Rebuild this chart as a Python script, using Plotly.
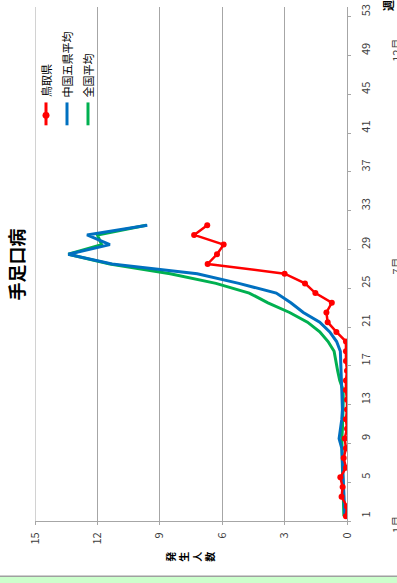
import plotly.graph_objects as go

# Weekly reported cases per sentinel site (hand, foot and mouth disease)
weeks = list(range(1, 32))
tottori = [0.05, 0.0, 0.26, 0.21, 0.32, 0.05, 0.16, 0.05, 0.11, 0.0,
           0.05, 0.0, 0.0, 0.05, 0.05, 0.0, 0.05, 0.05, 0.05, 0.51,
           0.93, 0.99, 0.73, 1.52, 2.02, 3.0, 6.70, 6.25, 5.93, 7.35, 6.72]
chugoku5 = [0.10, 0.12, 0.15, 0.17, 0.20, 0.20, 0.22, 0.25, 0.38, 0.30,
            0.25, 0.22, 0.25, 0.25, 0.27, 0.28, 0.28, 0.32, 0.50, 0.83,
            1.31, 2.10, 2.70, 3.40, 5.20, 7.20, 11.3, 13.4, 11.4, 12.5, 9.6]
national = [0.15, 0.17, 0.18, 0.20, 0.22, 0.22, 0.23, 0.25, 0.25, 0.22,
            0.20, 0.18, 0.18, 0.19, 0.35, 0.45, 0.55, 0.62, 0.91, 1.31,
            1.90, 2.76, 3.80, 4.70, 6.30, 8.50, 11.4, 13.4, 11.8, 12.0, 9.65]

series_names = ["鳥取県", "中国五県平均", "全国平均"]
series_colors = ["#FF0000", "#0070C0", "#00B050"]

week_ticks = list(range(1, 54, 4))
value_ticks = [0, 3, 6, 9, 12, 15]
month_labels = ["1月", "7月", "12月"]
value_title = "発生人数"

W, H = 397, 583
ML, MR, MT, MB = 35, 50, 4, 62
PW, PH = W - ML - MR, H - MT - MB
FONT = "Noto Sans CJK JP"
GRID = "#A6A6A6"


def px(x):
    return (x - ML) / PW


def py(y):
    return (H - MB - y) / PH


fig = go.Figure()

# The chart is laid out sideways: values run right-to-left, weeks bottom-to-top
fig.add_trace(go.Scatter(x=national, y=weeks, mode="lines", name=series_names[2],
                         line=dict(color=series_colors[2], width=3)))
fig.add_trace(go.Scatter(x=chugoku5, y=weeks, mode="lines", name=series_names[1],
                         line=dict(color=series_colors[1], width=3)))
fig.add_trace(go.Scatter(x=tottori, y=weeks, mode="lines+markers", name=series_names[0],
                         line=dict(color=series_colors[0], width=2.5),
                         marker=dict(color=series_colors[0], size=6)))
# invisible trace carrying the between-category tick marks
fig.add_trace(go.Scatter(x=[None], y=[None], yaxis="y2", showlegend=False))

fig.update_layout(
    width=W, height=H,
    margin=dict(l=ML, r=MR, t=MT, b=MB),
    paper_bgcolor="white", plot_bgcolor="white",
    showlegend=False,
    font=dict(family=FONT, color="#404040", size=11),
    xaxis=dict(range=[15, 0], tickvals=value_ticks, ticktext=[str(v) for v in value_ticks],
               tickangle=-90, showgrid=True, gridcolor=GRID, gridwidth=1,
               zeroline=False, showline=True, linecolor=GRID, linewidth=1,
               ticks="outside", ticklen=3, tickcolor=GRID,
               ticklabelstandoff=3, tickfont=dict(size=11, color="#404040")),
    yaxis=dict(range=[0.5, 53.5], side="right", tickvals=week_ticks,
               ticktext=[str(w) for w in week_ticks], tickangle=-90,
               showgrid=False, zeroline=False, showline=True, linecolor=GRID,
               linewidth=1, ticks="", ticklabelstandoff=9,
               tickfont=dict(size=11, color="#404040")),
    yaxis2=dict(range=[0.5, 53.5], overlaying="y", side="right",
                tickvals=[w - 0.5 for w in week_ticks], showticklabels=False,
                ticks="outside", ticklen=3, tickcolor=GRID,
                showgrid=False, zeroline=False, showline=False),
)

annotations = []
# Title
annotations.append(dict(text="<b>手足口病</b>", x=px(16), y=py(263), xref="paper", yref="paper",
                        xanchor="center", yanchor="middle",
                        textangle=-90, showarrow=False, font=dict(size=18, color="black")))
# Value axis title: vertical (one character per line) text, turned with the chart
annotations.append(dict(text="<b>" + "<br>".join(value_title) + "</b>",
                        x=px(190), y=py(557), xref="paper", yref="paper",
                        xanchor="center", yanchor="middle", textangle=-90,
                        showarrow=False, font=dict(size=10, color="black")))
# Month labels beyond the week numbers, running past the page edge
for label, ly in zip(month_labels, [525, 265, 48]):
    annotations.append(dict(text=label, x=px(396), y=py(ly), xref="paper", yref="paper",
                            xanchor="center", yanchor="middle",
                            textangle=-90, showarrow=False,
                            font=dict(size=11, color="#404040")))
annotations.append(dict(text="<b>週</b>", x=px(388), y=py(3), xref="paper", yref="paper",
                        xanchor="center", yanchor="middle",
                        textangle=-90, showarrow=False, font=dict(size=11, color="black")))

# Legend drawn sideways
shapes = []
legend_x = [46, 67, 88]
for name, color, lx in zip(series_names, series_colors, legend_x):
    shapes.append(dict(type="line", xref="paper", yref="paper",
                       x0=px(lx), x1=px(lx), y0=py(100), y1=py(123),
                       line=dict(color=color, width=3)))
    annotations.append(dict(text=name, x=px(lx), y=py(97), xref="paper", yref="paper",
                            xanchor="center", yanchor="bottom", textangle=-90,
                            showarrow=False, font=dict(size=11, color="black")))
shapes.append(dict(type="circle", xref="paper", yref="paper",
                   x0=px(46 - 3.5), x1=px(46 + 3.5), y0=py(113 + 3.5), y1=py(113 - 3.5),
                   fillcolor=series_colors[0], line=dict(width=0)))

# Outer gridline at the top of the value scale
shapes.append(dict(type="line", xref="x", yref="paper", x0=15, x1=15, y0=0, y1=1,
                   line=dict(color=GRID, width=1), layer="below"))

# Strip along the bottom edge of the page
shapes.append(dict(type="rect", xref="paper", yref="paper",
                   x0=px(-2), x1=px(W + 2), y0=py(H + 2), y1=py(576.5),
                   fillcolor="#CCFFCC", line=dict(color="#A0A0A0", width=1.5)))

fig.update_layout(annotations=annotations, shapes=shapes)
fig.write_html("out.html")
